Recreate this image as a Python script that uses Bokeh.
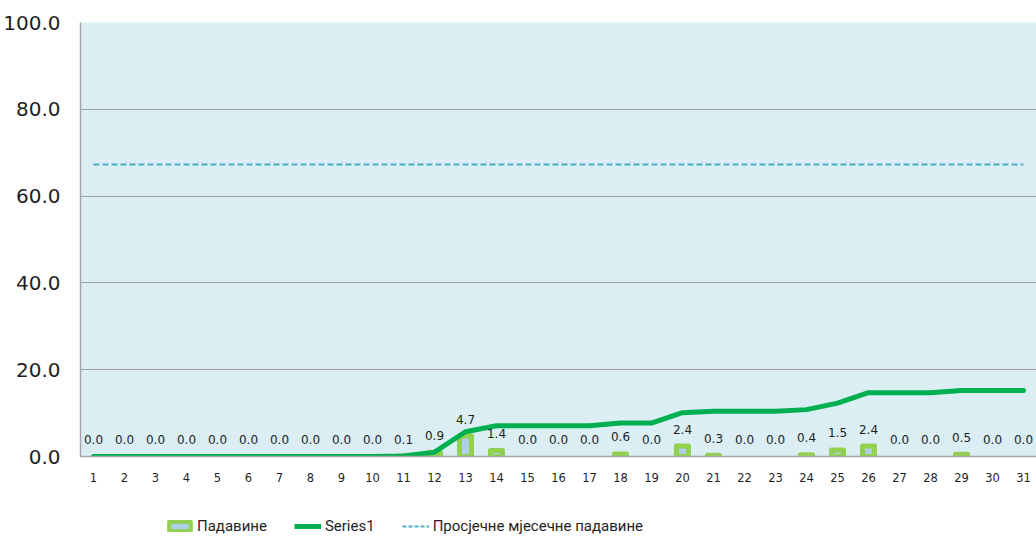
from bokeh.plotting import figure
from bokeh.layouts import column
from bokeh.models import (ColumnDataSource, Range1d, LabelSet, Legend, LegendItem,
                          CDSView, BooleanFilter, FixedTicker, NumeralTickFormatter)
from bokeh.core.properties import value
from bokeh.embed import file_html
from bokeh.resources import INLINE

# ---- data ----
days = [1, 2, 3, 4, 5, 6, 7, 8, 9, 10, 11, 12, 13, 14, 15, 16, 17, 18, 19, 20,
        21, 22, 23, 24, 25, 26, 27, 28, 29, 30, 31]
rain = [0.0, 0.0, 0.0, 0.0, 0.0, 0.0, 0.0, 0.0, 0.0, 0.0, 0.1, 0.9, 4.7, 1.4, 0.0,
        0.0, 0.0, 0.6, 0.0, 2.4, 0.3, 0.0, 0.0, 0.4, 1.5, 2.4, 0.0, 0.0, 0.5, 0.0, 0.0]
series1 = [0.0, 0.0, 0.0, 0.0, 0.0, 0.0, 0.0, 0.0, 0.0, 0.0, 0.1, 1.0, 5.7, 7.1, 7.1,
           7.1, 7.1, 7.7, 7.7, 10.1, 10.4, 10.4, 10.4, 10.8, 12.3, 14.7, 14.7, 14.7,
           15.2, 15.2, 15.2]
avg_monthly = 67.3
y_ticks = [0, 20, 40, 60, 80, 100]
x_labels = [str(d) for d in days]
legend_labels = ["Падавине", "Series1", "Просјечне мјесечне падавине"]

label_font = "DejaVu Sans"
BAR_FILL, BAR_LINE = "#AECFE4", "#92D050"
CUM_COLOR, AVG_COLOR = "#00B050", "#4BACC6"
FRAME_GRAY = "#A6A6A6"

p = figure(width=1036, height=500, output_backend="svg", toolbar_location=None,
           x_range=Range1d(0.581, 31.42), y_range=Range1d(0, 100),
           min_border_left=79, min_border_top=22, min_border_right=0,
           min_border_bottom=44)
p.border_fill_color = "white"
p.background_fill_color = "#DAEEF3"
p.outline_line_color = None

src = ColumnDataSource(dict(x=days, rain=rain, cum=series1,
                            lab=[f"{v:.1f}" for v in rain]))
view = CDSView(filter=BooleanFilter([v > 0 for v in rain]))

p.vbar(x="x", top="rain", bottom=0, width=0.39, source=src, view=view,
       fill_color=BAR_FILL, line_color=BAR_LINE, line_width=5, line_join="round")
p.line(x="x", y="cum", source=src, line_color=CUM_COLOR, line_width=5,
       line_cap="round", line_join="round")
p.line(x=[days[0], days[-1]], y=[avg_monthly, avg_monthly],
       line_color=AVG_COLOR, line_width=2, line_dash="6 3")

labels = LabelSet(x="x", y="rain", text="lab", source=src, y_offset=17,
                  text_align="center", text_baseline="middle",
                  text_font=value(label_font), text_font_size=value("12px"),
                  text_color="#1F1F1F")
p.add_layout(labels)

# axes
p.xaxis.ticker = FixedTicker(ticks=days)
p.xaxis.major_label_overrides = {d: s for d, s in zip(days, x_labels)}
p.yaxis.ticker = FixedTicker(ticks=y_ticks)
p.yaxis.formatter = NumeralTickFormatter(format="0.0")
for ax in (p.xaxis, p.yaxis):
    ax.major_tick_line_color = None
    ax.minor_tick_line_color = None
    ax.major_tick_out = 0
    ax.major_tick_in = 0
    ax.axis_line_color = FRAME_GRAY
    ax.axis_line_width = 1.5
    ax.major_label_text_font = label_font
    ax.major_label_text_color = "#1F1F1F"
p.xaxis.major_label_text_font_size = "11.5px"
p.xaxis.major_label_standoff = 16
p.yaxis.major_label_text_font_size = "20px"
p.yaxis.major_label_standoff = 20

p.xgrid.grid_line_color = None
p.ygrid.grid_line_color = "#A0A0A0"
p.ygrid.grid_line_width = 1

# ---- legend strip (separate figure below the chart) ----
lf = figure(width=1036, height=40, output_backend="svg", toolbar_location=None,
            x_range=Range1d(0, 1), y_range=Range1d(0, 1),
            x_axis_type=None, y_axis_type=None,
            min_border_left=0, min_border_right=0, min_border_top=0,
            min_border_bottom=0)
lf.outline_line_color = None
lf.grid.grid_line_color = None
lf.background_fill_color = "white"
lf.border_fill_color = "white"
nan = float("nan")
placeholder = ColumnDataSource(dict(x=[nan], y=[nan]))
r1 = lf.vbar(x="x", top="y", bottom=nan, width=0.1, source=placeholder,
             fill_color=BAR_FILL, line_color=BAR_LINE, line_width=4,
             line_join="round")
r2 = lf.line(x="x", y="y", source=placeholder, line_color=CUM_COLOR, line_width=5)
r3 = lf.line(x="x", y="y", source=placeholder, line_color=AVG_COLOR, line_width=2,
             line_dash="4 2")
legend = Legend(items=[LegendItem(label=legend_labels[0], renderers=[r1]),
                       LegendItem(label=legend_labels[1], renderers=[r2]),
                       LegendItem(label=legend_labels[2], renderers=[r3])],
                orientation="horizontal", location=(86, 5),
                background_fill_alpha=0, border_line_color=None,
                label_text_font="Roboto",
                label_text_font_size="15px", label_text_color="#1F1F1F",
                glyph_width=27, glyph_height=12, label_height=16,
                label_standoff=4, spacing=27, padding=0, margin=0)
lf.add_layout(legend, "center")

layout = column(p, lf, spacing=0)
open("out.html", "w").write(file_html(layout, INLINE))
